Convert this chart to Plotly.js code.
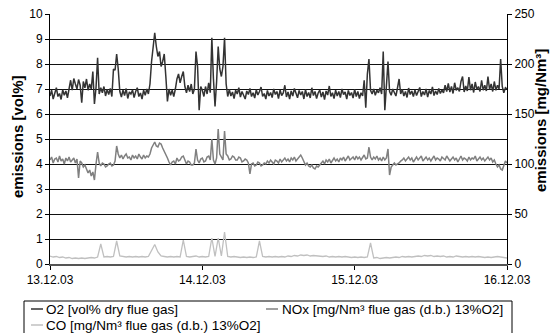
<!DOCTYPE html>
<html>
<head>
<meta charset="utf-8">
<script src="https://cdn.plot.ly/plotly-3.0.1.min.js"></script>
<style>
html,body{margin:0;padding:0;background:#fff;}
#chart{width:550px;height:333px;}
</style>
</head>
<body>
<div id="chart"></div>
<script>
// time axis: first sample and sampling steps
const timeStart = '2003-12-13 00:00:00';
const stepFineMs = 15 * 60 * 1000;   // O2 and NOx
const stepCoarseMs = 30 * 60 * 1000; // CO
const tickDates = ['2003-12-13', '2003-12-14', '2003-12-15', '2003-12-16'];
const tickLabels = ['13.12.03', '14.12.03', '15.12.03', '16.12.03'];

const seriesNames = [
  'O2 [vol% dry flue gas]',
  'NOx [mg/Nm³ flue gas (d.b.) 13%O2]',
  'CO [mg/Nm³ flue gas (d.b.) 13%O2]'
];

// O2 [vol%] (left axis), 15-min samples
const o2 = [
  6.72, 6.95, 6.6, 6.88, 7.05, 6.7, 6.82, 6.58, 6.97, 6.75, 6.92, 6.65,
  7.1, 7.35, 6.95, 7.42, 7.2, 7.0, 7.38, 7.15, 6.45, 7.3, 7.05, 7.4, 6.95,
  7.2, 7.0,
  7.7, 6.4, 7.05,
  8.25,
  6.8, 7.05, 6.85, 7.1, 6.72, 6.98, 6.78, 7.02, 6.7,
  7.8, 7.75, 8.4, 7.8,
  6.9, 6.68, 6.95, 6.74, 7.02, 6.62, 6.88, 6.8, 6.96, 6.66, 6.9, 7.05, 6.7, 6.84, 6.6, 6.95, 6.75, 7.0,
  6.8, 7.2,
  8.1, 8.6, 9.25, 8.7, 8.3, 8.5, 7.9, 8.1, 8.4, 7.5, 6.5,
  7.0, 6.75, 6.95, 6.7, 7.0,
  7.4, 7.6, 7.25, 7.5, 7.7,
  7.1, 6.85, 7.15, 6.9, 7.2, 6.8, 7.0,
  8.5, 7.9, 6.15, 7.1,
  6.95, 6.7, 7.1, 6.8, 7.25, 6.85,
  9.05, 7.4, 6.3, 7.3, 8.7, 7.8, 7.5, 7.9, 9.05, 7.2, 6.7,
  6.98, 6.72, 6.88, 6.62, 6.95, 6.8, 7.05, 6.68, 6.9, 6.75,
  6.6, 6.92, 6.78, 7.02, 6.7, 6.85, 6.64, 6.97, 6.76, 6.9,
  7.08, 6.7, 6.82, 6.6, 6.94, 6.72, 6.86, 6.66, 7.0, 6.78,
  6.9, 6.62, 6.96, 6.74, 6.84, 7.15, 6.68, 6.88, 6.6, 6.92,
  6.72, 7.02, 6.8, 6.65, 6.94, 6.76, 6.9, 6.6, 6.98, 6.7,
  6.86, 6.64, 7.05, 6.74, 6.9, 6.62, 6.84, 6.96, 6.68, 6.88,
  6.58, 6.92, 6.76, 7.12, 6.7, 6.85, 6.62, 6.95, 6.72, 6.9,
  6.66, 7.0, 6.78, 6.88, 6.6, 6.94, 6.74, 6.86, 6.64, 6.98,
  6.7, 6.9, 6.62, 6.85, 6.72,
  7.35, 6.25, 7.6, 8.2, 6.95,
  6.8, 7.0, 6.75, 6.95, 6.85, 7.05, 6.8,
  8.5, 6.15, 7.0, 8.1, 6.9,
  6.75, 7.0, 6.85, 6.72, 7.05,
  7.4,
  6.8, 6.98, 6.72, 6.9, 6.66, 7.04, 6.78, 6.92, 6.7, 6.96,
  6.74, 6.88, 7.06, 6.7, 6.9, 6.76, 7.0, 6.68, 6.94, 6.8,
  7.08, 6.74, 6.92, 6.78, 7.02, 6.82, 6.96,
  6.85, 7.15, 6.9, 7.22, 6.88, 7.1, 6.82, 7.25, 6.95, 7.05,
  6.9, 7.3, 7.5, 6.88, 7.12, 6.92, 7.48, 6.95, 7.2, 6.86,
  7.28, 6.98, 7.1, 6.9, 7.35, 6.95, 7.15, 6.92, 7.5, 6.98,
  7.2, 6.9, 7.3, 6.95, 7.15, 7.0,
  8.2, 7.1, 6.85, 7.05, 7.0
];

// NOx [mg/Nm³] (right axis), 15-min samples
const nox = [
  104, 107, 101, 105, 106, 102, 108, 103, 105, 100, 106, 103, 107, 102, 104, 106, 101, 105,
  86,
  103, 101, 97, 99,
  95, 91, 94, 88, 92, 84,
  100,
  112,
  101, 98, 101, 100, 97, 98, 100, 101, 98, 99, 103,
  118, 110,
  106, 109, 105, 108, 110, 106, 107, 104, 109, 106, 108, 105, 110, 107, 105, 109, 106, 108, 107,
  110, 116, 119, 122, 118, 117, 121, 120, 116, 113, 110, 106,
  102, 99, 102, 103, 100, 106, 103, 104, 107, 108, 104, 100, 103, 102, 99, 99, 101,
  115, 104,
  101, 105, 106, 102, 103, 107, 108, 104,
  125, 104, 100, 106, 135, 110, 107, 104, 133, 110,
  108, 104, 105, 108, 107, 104, 104, 107, 106, 102, 103, 105, 104, 101,
  90,
  100, 101, 98, 99, 102, 101, 98, 99, 101,
  100, 103, 101, 104, 102, 100, 104, 103, 101, 105,
  102, 104, 106, 103, 105, 102, 106, 104, 107, 103,
  105, 108, 109, 106,
  103, 99, 101, 98, 97, 99, 96, 95, 98, 97, 99, 101,
  103, 100, 104, 102, 105, 101, 104, 106, 103, 105,
  102, 106, 104, 107, 103, 105, 108, 104, 106, 107,
  104, 108, 105, 107, 104, 106,
  109, 105, 106, 117, 107,
  104, 107, 105, 108, 104, 106, 103, 107, 104,
  106, 115, 89, 97,
  99, 101, 99, 100, 101, 103,
  104, 106, 103, 105, 107, 104, 106, 102, 105, 107,
  104, 106, 108, 103, 105, 107, 104, 106, 103, 105,
  108, 104, 106, 105, 103, 107, 105, 104, 108, 106,
  103, 105, 107, 104, 106, 102, 105, 108, 104, 106,
  105, 103, 107, 104, 106, 105, 108, 103, 105, 107,
  104, 106, 103, 105, 107, 104, 106, 102, 104,
  100, 97, 99, 95, 94, 98,
  103, 101
];

// CO [mg/Nm³] (right axis), 30-min samples
const co = [
  8, 7, 7.5, 6.5, 7, 6, 6.5, 5.5, 6, 5.5,
  6, 5.5, 6, 6.5, 6, 7, 20, 7, 7.5, 7,
  7.5, 23, 8, 7.5, 7, 7.5, 7, 7.5, 7, 7.5,
  7, 7.5, 14, 19.5, 12, 8, 7.5, 7, 7.5, 7,
  7.5, 7, 24, 7.5, 7, 7.5, 8, 7, 7.5, 7,
  7.5, 26, 7.5, 26, 8, 32, 7.5, 7, 7.5, 7,
  6.5, 7, 6.5, 7, 6.5, 7, 23, 7.5, 7, 7.5,
  7, 7.5, 7, 7.5, 7, 8, 7.5, 8.5, 8, 9,
  8.5, 9, 8, 8.5, 8, 8, 7.5, 8, 7, 7.5,
  7, 7.5, 7, 7.5, 7, 6.5, 7, 6.5, 7, 6.5,
  7, 21, 6, 6.5, 5.5, 6, 6.5, 6, 6.5, 7,
  6.5, 7.5, 7, 7.5, 7, 7.5, 8, 7.5, 8.5, 8,
  8.5, 7.5, 8, 7.5, 8, 7, 7.5, 7, 8, 7.5,
  7, 7.5, 7, 7.5, 7, 7.5, 7, 6.5, 7, 6.5,
  7, 7.5, 7, 6.5, 6
];

const colors = ['#333333', '#808080', '#c0c0c0'];
const FONT = 'Liberation Sans, Arial, sans-serif';

const traces = [
  {type: 'scatter', mode: 'lines', name: seriesNames[2], x0: timeStart, dx: stepCoarseMs, y: co,
   yaxis: 'y2', line: {color: colors[2], width: 1.3}, hoverinfo: 'skip'},
  {type: 'scatter', mode: 'lines', name: seriesNames[1], x0: timeStart, dx: stepFineMs, y: nox,
   yaxis: 'y2', line: {color: colors[1], width: 1.5}, hoverinfo: 'skip'},
  {type: 'scatter', mode: 'lines', name: seriesNames[0], x0: timeStart, dx: stepFineMs, y: o2,
   yaxis: 'y', line: {color: colors[0], width: 1.5}, hoverinfo: 'skip'}
];

// pixel helpers for the hand-made legend (plot area: l=50, w=457, t=14, h=250)
const L = 50, W = 457, T = 14, H = 250;
const px = v => (v - L) / W;
const py = v => (T + H - v) / H;

const shapes = [
  {type: 'rect', xref: 'paper', yref: 'paper', x0: px(24), x1: px(512), y0: py(301), y1: py(340),
   line: {color: '#000', width: 1}, fillcolor: 'rgba(0,0,0,0)'},
  {type: 'line', xref: 'paper', yref: 'paper', x0: px(31), x1: px(43), y0: py(309), y1: py(309),
   line: {color: colors[0], width: 1.5}},
  {type: 'line', xref: 'paper', yref: 'paper', x0: px(266), x1: px(278), y0: py(309), y1: py(309),
   line: {color: colors[1], width: 1.5}},
  {type: 'line', xref: 'paper', yref: 'paper', x0: px(31), x1: px(43), y0: py(325), y1: py(325),
   line: {color: colors[2], width: 1.5}}
];

const legendFont = {family: FONT, size: 13.5, color: '#000'};
const annotations = [
  {xref: 'paper', yref: 'paper', x: px(44), y: py(309), xanchor: 'left', yanchor: 'middle',
   text: seriesNames[0], showarrow: false, font: legendFont},
  {xref: 'paper', yref: 'paper', x: px(280), y: py(309), xanchor: 'left', yanchor: 'middle',
   text: seriesNames[1], showarrow: false, font: legendFont},
  {xref: 'paper', yref: 'paper', x: px(44), y: py(325), xanchor: 'left', yanchor: 'middle',
   text: seriesNames[2], showarrow: false, font: legendFont},
  {xref: 'paper', yref: 'paper', x: px(17), y: py(137), xanchor: 'center', yanchor: 'middle',
   text: 'emissions [vol%]', textangle: -90, showarrow: false,
   font: {family: FONT, size: 15, color: '#000', weight: 'bold'}},
  {xref: 'paper', yref: 'paper', x: px(540), y: py(121), xanchor: 'center', yanchor: 'middle',
   text: 'emissions [mg/Nm³]', textangle: -90, showarrow: false,
   font: {family: FONT, size: 15, color: '#000', weight: 'bold'}}
];

const layout = {
  width: 550, height: 333,
  margin: {l: L, r: 550 - L - W, t: T, b: 333 - T - H, pad: 0},
  paper_bgcolor: '#fff', plot_bgcolor: '#fff',
  font: {family: FONT, size: 12, color: '#000'},
  showlegend: false,
  xaxis: {
    type: 'date', range: [tickDates[0], tickDates[3]],
    tickmode: 'array', tickvals: tickDates, ticktext: tickLabels,
    ticks: 'outside', ticklen: 4, tickcolor: '#000', tickwidth: 1,
    showline: true, linecolor: '#555', linewidth: 2,
    showgrid: false, zeroline: false,
    tickfont: {family: FONT, size: 12, color: '#000'}
  },
  yaxis: {
    range: [0, 10], dtick: 1, tick0: 0,
    ticks: 'outside', ticklen: 4, tickcolor: '#000',
    showline: true, linecolor: '#000', linewidth: 1,
    showgrid: true, gridcolor: '#111', gridwidth: 1, zeroline: false,
    tickfont: {family: FONT, size: 12, color: '#000'}
  },
  yaxis2: {
    overlaying: 'y', side: 'right', range: [0, 250], dtick: 50, tick0: 0,
    ticks: 'outside', ticklen: 4, tickcolor: '#000',
    showline: true, linecolor: '#000', linewidth: 1,
    showgrid: false, zeroline: false,
    tickfont: {family: FONT, size: 12, color: '#000'}
  },
  shapes: shapes,
  annotations: annotations
};

Plotly.newPlot('chart', traces, layout, {staticPlot: true, displayModeBar: false});
</script>
</body>
</html>
